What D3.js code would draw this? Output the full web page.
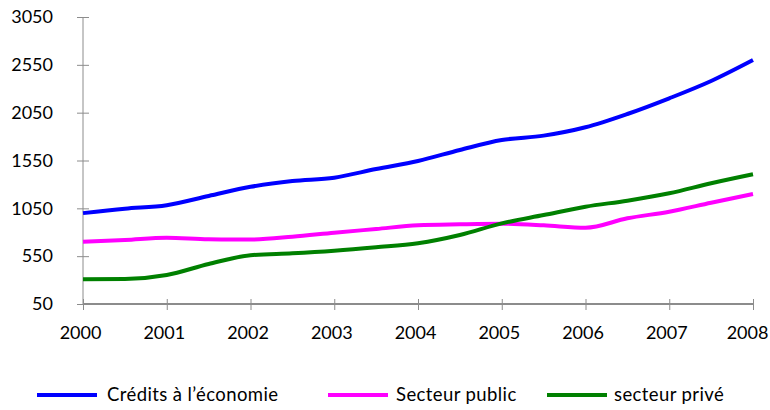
<!DOCTYPE html>
<html><head><meta charset="utf-8">
<script src="https://cdn.jsdelivr.net/npm/d3@7"></script>
<style>body{margin:0;background:#fff}svg{display:block}text{font-family:Lato,"Open Sans",sans-serif;fill:#000}</style>
</head><body><svg id="c" width="770" height="410"></svg>
<script>
const periods = [2000,2000.5,2001,2001.5,2002,2002.5,2003,2003.5,2004,2004.5,2005,2005.5,2006,2006.5,2007,2007.5,2008];
const credits = [1000,1046,1083,1179,1275,1336,1370,1461,1545,1660,1764,1810,1897,2036,2200,2381,2600];
const secteurPublic = [701,719,743,726,724,753,795,834,873,883,889,873,847,946,1015,1109,1200];
const secteurPrive = [308,311,353,468,560,580,607,643,685,771,893,980,1067,1130,1207,1312,1406];
const yTicks = [50,550,1050,1550,2050,2550,3050];
const xTicks = [2000,2001,2002,2003,2004,2005,2006,2007,2008];
const seriesNames = ["Crédits à l’économie","Secteur public","secteur privé"];
const colors = ["#0000FF","#FF00FF","#008000"];
const seriesValues = [credits, secteurPublic, secteurPrive];

const svg = d3.select("#c");
const x = d3.scaleLinear().domain([2000,2008]).range([83,753]);
const y = d3.scaleLinear().domain([50,3050]).range([304,17]);

const axisColor = "#8c8c8c";
// y axis
const ya = svg.append("g").attr("transform","translate(83,0)")
  .call(d3.axisLeft(y).tickValues(yTicks).tickSize(6).tickPadding(24).tickFormat(d3.format("d")));
ya.selectAll(".tick line").attr("x2",6).attr("x1",-6).attr("stroke",axisColor);
ya.select(".domain").attr("stroke",axisColor).attr("d","M0,17V304");
ya.selectAll("text").attr("font-size",18).attr("font-family","Lato,sans-serif");
// x axis
const xa = svg.append("g").attr("transform","translate(0,304)")
  .call(d3.axisBottom(x).tickValues(xTicks).tickSize(6).tickPadding(16).tickFormat(d3.format("d")));
xa.selectAll(".tick line").attr("y1",-5).attr("y2",6).attr("stroke",axisColor);
xa.select(".domain").attr("stroke",axisColor).attr("stroke-width",2).attr("d","M83,0H753");
xa.selectAll("text").attr("font-size",18).attr("font-family","Lato,sans-serif")
  .attr("dx",(d,i)=> i===xTicks.length-1 ? -6 : -3);

const line = d3.line().x((d,i)=>x(periods[i])).y(d=>y(d)).curve(d3.curveMonotoneX);
seriesValues.forEach((vals,k)=>{
  svg.append("path").datum(vals).attr("d",line).attr("fill","none")
    .attr("stroke",colors[k]).attr("stroke-width",4).attr("stroke-linecap","butt");
});

// legend
const legX = [37,328,547];
const legGap = [10,8,7];
seriesNames.forEach((name,k)=>{
  const g = svg.append("g").attr("transform",`translate(${legX[k]},395)`);
  g.append("line").attr("x1",0).attr("x2",60).attr("stroke",colors[k]).attr("stroke-width",4);
  g.append("text").attr("x",60+legGap[k]).attr("y",0).attr("dy","0.35em")
    .attr("font-size",18.5).attr("letter-spacing","0.4px").text(name);
});
</script></body></html>
